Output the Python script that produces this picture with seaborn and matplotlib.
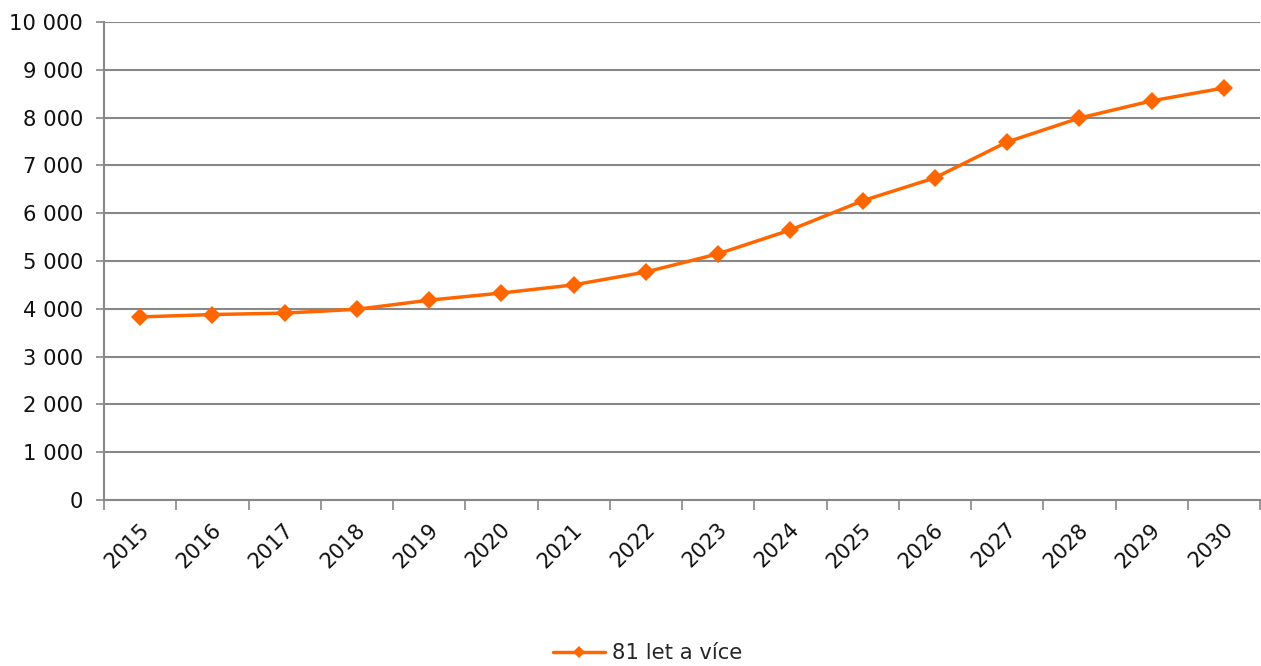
import matplotlib
matplotlib.use("Agg")
import matplotlib.pyplot as plt
import seaborn as sns
import pandas as pd

years = [str(y) for y in range(2015, 2031)]
values = [3830, 3880, 3910, 3990, 4180, 4330, 4500, 4770, 5150, 5650,
          6260, 6740, 7490, 7990, 8350, 8620]
series_name = "81 let a více"
y_ticks = list(range(0, 10001, 1000))

df = pd.DataFrame({"rok": years, "hodnota": values, "skupina": series_name})

sns.set_theme(style="white")
plt.rcParams["font.family"] = ["DejaVu Sans"]

fig = plt.figure(figsize=(12.61, 6.66), dpi=100)
ax = fig.add_axes([104 / 1261, 166 / 666, 1156 / 1261, 478 / 666])

orange = "#FF6600"
fs = 15.2
sns.lineplot(data=df, x="rok", y="hodnota", hue="skupina", palette=[orange],
             marker="D", markersize=9.5, markeredgewidth=0, linewidth=2.5,
             ax=ax, sort=False)

ax.set_xlim(-0.5, len(years) - 0.5)
ax.set_ylim(0, 10000)
ax.set_yticks(y_ticks)
ax.set_yticklabels([f"{v:,}".replace(",", " ") for v in y_ticks], fontsize=fs,
                   color="#111111")
ax.set_xticks([i + 0.08 for i in range(len(years))])
ax.set_xticklabels(years, rotation=45, ha="right", va="center",
                   rotation_mode="anchor", fontsize=fs, color="#111111")
ax.set_xticks([i - 0.5 for i in range(len(years) + 1)], minor=True)
ax.tick_params(axis="x", which="major", length=0, pad=19)
ax.tick_params(axis="x", which="minor", length=7, width=1.2, color="#888888",
               direction="out", bottom=True)
ax.tick_params(axis="y", which="major", length=6, width=1.2, color="#888888",
               direction="out", left=True, pad=9)
ax.set_xlabel("")
ax.set_ylabel("")

ax.yaxis.grid(True, color="#888888", linewidth=1.5)
ax.set_axisbelow(True)
for side in ["top", "right"]:
    ax.spines[side].set_visible(False)
for side in ["left", "bottom"]:
    ax.spines[side].set_color("#888888")
    ax.spines[side].set_linewidth(1.5)

handles, labels = ax.get_legend_handles_labels()
for h in handles:
    h.set_markersize(6.5)
ax.legend(handles, labels, loc="center", bbox_to_anchor=(0.47, -0.32),
          frameon=False, fontsize=fs, handlelength=2.5, handletextpad=0.3)

fig.savefig("out.png", dpi=100)
